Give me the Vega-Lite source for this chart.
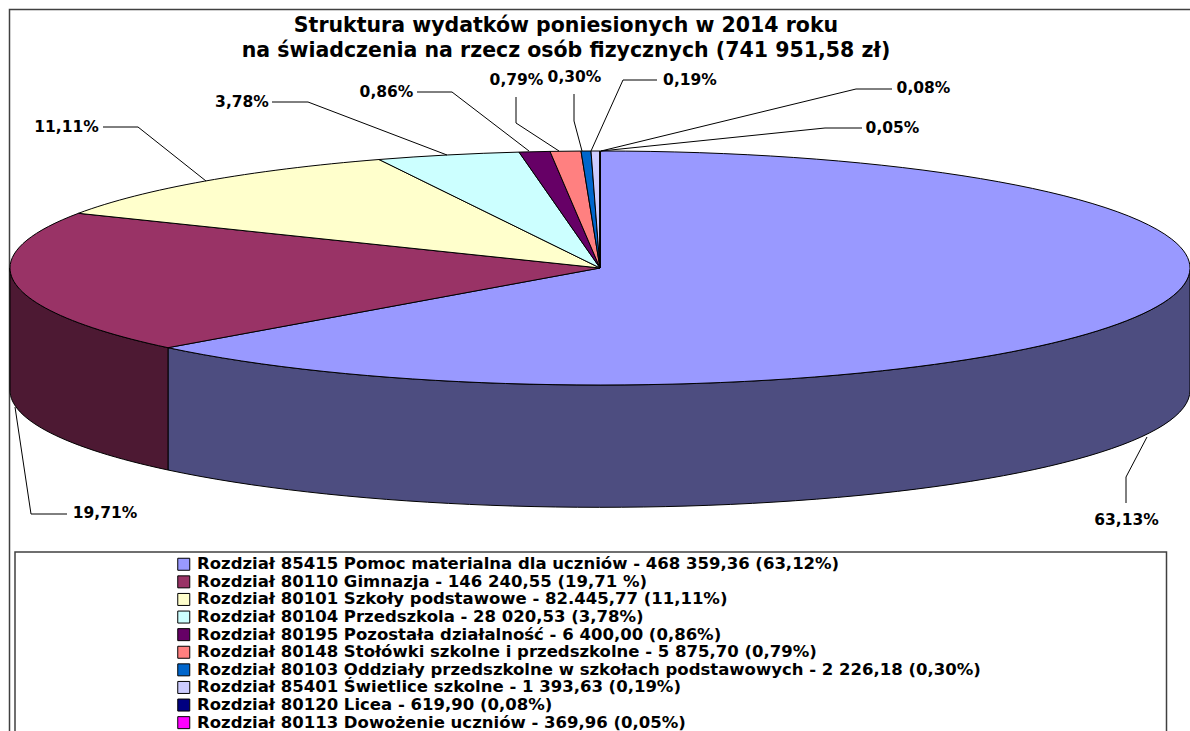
{"$schema":"https://vega.github.io/schema/vega-lite/v6.json","width":1190,"height":731,"padding":0,"autosize":{"type":"none"},"background":"white","config":{"view":{"stroke":null},"text":{"font":"DejaVu Sans","fontWeight":"bold","fontSize":15.5,"fill":"#000"}},"title":{"text":["Struktura wydatków poniesionych w 2014 roku","na świadczenia na rzecz osób fizycznych (741 951,58 zł)"],"font":"DejaVu Sans","fontWeight":"bold","fontSize":20.5,"lineHeight":25,"anchor":"middle","dx":-29,"dy":65,"color":"#000"},"data":{"values":[{"rozdzial":"Rozdział 85415 Pomoc materialna dla uczniów - 468 359,36 (63,12%)","kwota":468359.36,"procent":"63,13%"},{"rozdzial":"Rozdział 80110 Gimnazja - 146 240,55 (19,71 %)","kwota":146240.55,"procent":"19,71%"},{"rozdzial":"Rozdział 80101 Szkoły podstawowe - 82.445,77 (11,11%)","kwota":82445.77,"procent":"11,11%"},{"rozdzial":"Rozdział 80104 Przedszkola - 28 020,53 (3,78%)","kwota":28020.53,"procent":"3,78%"},{"rozdzial":"Rozdział 80195 Pozostała działalność - 6 400,00 (0,86%)","kwota":6400.0,"procent":"0,86%"},{"rozdzial":"Rozdział 80148 Stołówki szkolne i przedszkolne - 5 875,70 (0,79%)","kwota":5875.7,"procent":"0,79%"},{"rozdzial":"Rozdział 80103 Oddziały przedszkolne w szkołach podstawowych - 2 226,18 (0,30%)","kwota":2226.18,"procent":"0,30%"},{"rozdzial":"Rozdział 85401 Świetlice szkolne - 1 393,63 (0,19%)","kwota":1393.63,"procent":"0,19%"},{"rozdzial":"Rozdział 80120 Licea - 619,90 (0,08%)","kwota":619.9,"procent":"0,08%"},{"rozdzial":"Rozdział 80113 Dowożenie uczniów - 369,96 (0,05%)","kwota":369.96,"procent":"0,05%"}]},"layer":[{"transform":[{"filter":"datum.kwota == 468359.36"}],"mark":{"type":"point","filled":false,"opacity":1,"size":4,"stroke":"#404040","strokeWidth":1.5,"shape":"M-585.5,731L-585.5,-356L595,-356M-580,731L-580,186.5L571.5,186.5L571.5,731"}},{"transform":[{"filter":"datum.kwota == 468359.36"}],"mark":{"type":"point","filled":true,"opacity":1,"size":4,"fill":"#4D4D80","stroke":"#000","strokeWidth":1,"shape":"M595,-97.5L595,24.5A590 117 0 0 1 -427,104.5L-427,-17.8A590 117 0 0 0 595,-97.5Z"}},{"transform":[{"filter":"datum.kwota == 146240.55"}],"mark":{"type":"point","filled":true,"opacity":1,"size":4,"fill":"#4D1933","stroke":"#000","strokeWidth":1,"shape":"M-427,-17.8L-427,104.5A590 117 0 0 1 -585,24.5L-585,-97.5A590 117 0 0 0 -427,-17.8Z"}},{"mark":{"type":"point","filled":true,"opacity":1,"size":4,"stroke":"#000","strokeWidth":1},"encoding":{"fill":{"field":"rozdzial","type":"nominal","sort":null,"scale":{"domain":["Rozdział 85415 Pomoc materialna dla uczniów - 468 359,36 (63,12%)","Rozdział 80110 Gimnazja - 146 240,55 (19,71 %)","Rozdział 80101 Szkoły podstawowe - 82.445,77 (11,11%)","Rozdział 80104 Przedszkola - 28 020,53 (3,78%)","Rozdział 80195 Pozostała działalność - 6 400,00 (0,86%)","Rozdział 80148 Stołówki szkolne i przedszkolne - 5 875,70 (0,79%)","Rozdział 80103 Oddziały przedszkolne w szkołach podstawowych - 2 226,18 (0,30%)","Rozdział 85401 Świetlice szkolne - 1 393,63 (0,19%)","Rozdział 80120 Licea - 619,90 (0,08%)","Rozdział 80113 Dowożenie uczniów - 369,96 (0,05%)"],"range":["#9999FF","#993366","#FFFFCC","#CCFFFF","#660066","#FF8080","#0066CC","#CCCCFF","#000080","#FF00FF"]},"legend":{"orient":"none","legendX":175.5,"legendY":556,"title":null,"padding":0,"symbolType":"square","symbolSize":144,"symbolStrokeColor":"#000","symbolStrokeWidth":1,"labelFont":"DejaVu Sans","labelFontWeight":"bold","labelFontSize":16.5,"labelColor":"#000","labelLimit":1100,"labelOffset":5,"rowPadding":0.6,"columns":1}},"shape":{"field":"procent","type":"nominal","legend":null,"scale":{"domain":["63,13%","19,71%","11,11%","3,78%","0,86%","0,79%","0,30%","0,19%","0,08%","0,05%"],"range":["M5,-97.5L5,-214.5A590 117 0 1 1 -427,-17.8Z","M5,-97.5L-427,-17.8A590 117 0 0 1 -516.5,-152.2Z","M5,-97.5L-516.5,-152.2A590 117 0 0 1 -216,-206Z","M5,-97.5L-216,-206A590 117 0 0 1 -76,-213.4Z","M5,-97.5L-76,-213.4A590 117 0 0 1 -45,-214.1Z","M5,-97.5L-45,-214.1A590 117 0 0 1 -14,-214.44Z","M5,-97.5L-14,-214.44A590 117 0 0 1 -4,-214.49Z","M5,-97.5L-4,-214.49A590 117 0 0 1 5,-214.5Z","M5,-97.5L5,-214.5Z","M5,-97.5L5,-214.5Z"]}}}},{"mark":{"type":"point","filled":false,"opacity":1,"size":4,"stroke":"#000","strokeWidth":1},"encoding":{"shape":{"field":"procent","type":"nominal","legend":null,"scale":{"domain":["63,13%","19,71%","11,11%","3,78%","0,86%","0,79%","0,30%","0,19%","0,08%","0,05%"],"range":["M531,137.5L531,111.5L552,71.5","M-528,148.5L-564,148.5L-580,41.5","M-492,-238.5L-457,-238.5L-389,-184.5","M-323,-263.5L-287,-263.5L-148,-210.5","M-178,-273.5L-143,-273.5L-66,-214.5","M-79,-268.5L-79,-242.5L-36,-214.5","M-21,-271.5L-21,-244.5L-13,-214.5","M62,-285.5L28,-285.5L-4,-214.5","M297,-276.5L261,-276.5L6,-214.5","M267,-237.5L230,-237.5L6,-214.5"]}}}},{"transform":[{"filter":"datum.procent == '63,13%'"}],"mark":{"type":"text","dx":531.5,"dy":154.5,"align":"center","baseline":"middle"},"encoding":{"text":{"field":"procent"}}},{"transform":[{"filter":"datum.procent == '19,71%'"}],"mark":{"type":"text","dx":-490,"dy":147.5,"align":"center","baseline":"middle"},"encoding":{"text":{"field":"procent"}}},{"transform":[{"filter":"datum.procent == '11,11%'"}],"mark":{"type":"text","dx":-528.5,"dy":-238.5,"align":"center","baseline":"middle"},"encoding":{"text":{"field":"procent"}}},{"transform":[{"filter":"datum.procent == '3,78%'"}],"mark":{"type":"text","dx":-353,"dy":-263.5,"align":"center","baseline":"middle"},"encoding":{"text":{"field":"procent"}}},{"transform":[{"filter":"datum.procent == '0,86%'"}],"mark":{"type":"text","dx":-208.5,"dy":-273.5,"align":"center","baseline":"middle"},"encoding":{"text":{"field":"procent"}}},{"transform":[{"filter":"datum.procent == '0,79%'"}],"mark":{"type":"text","dx":-78.5,"dy":-285.5,"align":"center","baseline":"middle"},"encoding":{"text":{"field":"procent"}}},{"transform":[{"filter":"datum.procent == '0,30%'"}],"mark":{"type":"text","dx":-20.5,"dy":-288.5,"align":"center","baseline":"middle"},"encoding":{"text":{"field":"procent"}}},{"transform":[{"filter":"datum.procent == '0,19%'"}],"mark":{"type":"text","dx":95,"dy":-285.5,"align":"center","baseline":"middle"},"encoding":{"text":{"field":"procent"}}},{"transform":[{"filter":"datum.procent == '0,08%'"}],"mark":{"type":"text","dx":328.5,"dy":-277.5,"align":"center","baseline":"middle"},"encoding":{"text":{"field":"procent"}}},{"transform":[{"filter":"datum.procent == '0,05%'"}],"mark":{"type":"text","dx":297.5,"dy":-237.5,"align":"center","baseline":"middle"},"encoding":{"text":{"field":"procent"}}}],"resolve":{"scale":{"shape":"independent"}}}
